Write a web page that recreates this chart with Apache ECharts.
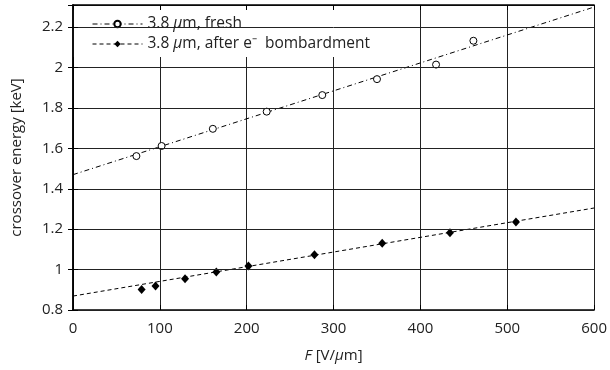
<!DOCTYPE html>
<html><head><meta charset="utf-8">
<script src="https://cdn.jsdelivr.net/npm/echarts@6/dist/echarts.min.js"></script>
<style>html,body{margin:0;padding:0;background:#fff}#c{width:610px;height:370px}</style>
</head><body><div id="c"></div>
<script>
// ---- data ----
const freshF = [73, 102, 161, 223, 287, 350, 418, 461];
const freshE = [1.562, 1.612, 1.697, 1.782, 1.864, 1.943, 2.015, 2.133];
const bombF = [79, 95, 129, 165, 202, 278, 356, 434, 510];
const bombE = [0.902, 0.919, 0.955, 0.988, 1.018, 1.074, 1.130, 1.183, 1.236];
const fitFreshF = [0, 600];
const fitFreshE = [1.47, 2.30];
const fitBombF = [0, 600];
const fitBombE = [0.869, 1.305];
const xTicks = [0, 100, 200, 300, 400, 500, 600];
const yTicks = [0.8, 1, 1.2, 1.4, 1.6, 1.8, 2, 2.2];

const pair = (a, b) => a.map((v, i) => [v, b[i]]);
const FONT = 'Open Sans';
const FS = 15;
const LFS = 15.5;
const TXT = '#222';

const chart = echarts.init(document.getElementById('c'), null, {renderer: 'canvas'});
const axisCommon = {
  type: 'value',
  axisLine: {show: true, lineStyle: {color: '#000', width: 1.5}},
  axisTick: {show: true, inside: true, length: 5, lineStyle: {color: '#000'}},
};
chart.setOption({
  animation: false,
  backgroundColor: '#fff',
  grid: {left: 73, right: 15, top: 5, bottom: 60},
  textStyle: {fontFamily: FONT},
  legend: {
    orient: 'vertical', left: 73, top: 10,
    padding: [5, 17, 4, 19], itemGap: 2,
    itemWidth: 50, itemHeight: 8,
    backgroundColor: '#fff',
    z: 4,
    textStyle: {fontFamily: FONT, fontSize: LFS, lineHeight: 18, color: TXT,
      rich: {i: {fontFamily: FONT, fontSize: LFS, lineHeight: 18, fontStyle: 'italic', color: TXT}}},
    formatter: n => n === 'fresh' ? '3.8 {i|μ}m, fresh' : '3.8 {i|μ}m, after e\u207B  bombardment',
    data: [
      {name: 'fresh', lineStyle: {width: 1, type: [5, 3, 1, 3], color: '#000', opacity: 1}},
      {name: 'bomb', lineStyle: {width: 1, type: [4, 3], color: '#000', opacity: 1}}
    ]
  },
  xAxis: [
    Object.assign({}, axisCommon, {
      min: 0, max: 600, interval: 100, position: 'bottom',
      splitLine: {show: true, lineStyle: {color: '#222', width: 1}},
      axisLabel: {margin: 11, fontSize: FS, color: TXT, fontFamily: FONT,
        formatter: v => xTicks.includes(v) ? String(v) : ''},
      name: '{i|F} [V/{i|μ}m]', nameLocation: 'middle', nameGap: 38,
      nameTextStyle: {fontSize: FS, color: TXT, fontFamily: FONT,
        rich: {i: {fontStyle: 'italic', fontSize: FS, color: TXT, fontFamily: FONT}}}
    }),
    Object.assign({}, axisCommon, {
      min: 0, max: 600, interval: 100, position: 'top', z: 10,
      splitLine: {show: false}, axisLabel: {show: false}
    })
  ],
  yAxis: [
    Object.assign({}, axisCommon, {
      min: 0.8, max: 2.31, interval: 0.2, position: 'left', z: 10,
      splitLine: {show: true, lineStyle: {color: '#222', width: 1}},
      axisLabel: {margin: 10, fontSize: FS, color: TXT, fontFamily: FONT,
        formatter: v => { const t = yTicks.find(y => Math.abs(y - v) < 1e-6); return t === undefined ? '' : String(t); }},
      name: 'crossover energy [keV]', nameLocation: 'middle', nameGap: 49,
      nameTextStyle: {fontSize: FS, color: TXT, fontFamily: FONT}
    }),
    Object.assign({}, axisCommon, {
      min: 0.8, max: 2.31, interval: 0.2, position: 'right', z: 10,
      splitLine: {show: false}, axisLabel: {show: false}
    })
  ],
  series: [
    {name: 'fitFresh', type: 'line', data: pair(fitFreshF, fitFreshE), symbol: 'none',
     lineStyle: {color: '#000', width: 1, type: [5, 3, 1, 3]}, z: 3, silent: true},
    {name: 'fitBomb', type: 'line', data: pair(fitBombF, fitBombE), symbol: 'none',
     lineStyle: {color: '#000', width: 1, type: [4, 3]}, z: 3, silent: true},
    {name: 'fresh', type: 'line', data: pair(freshF, freshE), symbol: 'circle', symbolSize: 7,
     showSymbol: true, lineStyle: {width: 0, opacity: 0},
     itemStyle: {color: '#fff', borderColor: '#000', borderWidth: 1}, z: 5},
    {name: 'bomb', type: 'line', data: pair(bombF, bombE), symbol: 'diamond', symbolSize: [8, 9],
     showSymbol: true, lineStyle: {width: 0, opacity: 0},
     itemStyle: {color: '#000', borderColor: '#000', borderWidth: 0}, z: 5}
  ]
});
</script></body></html>
